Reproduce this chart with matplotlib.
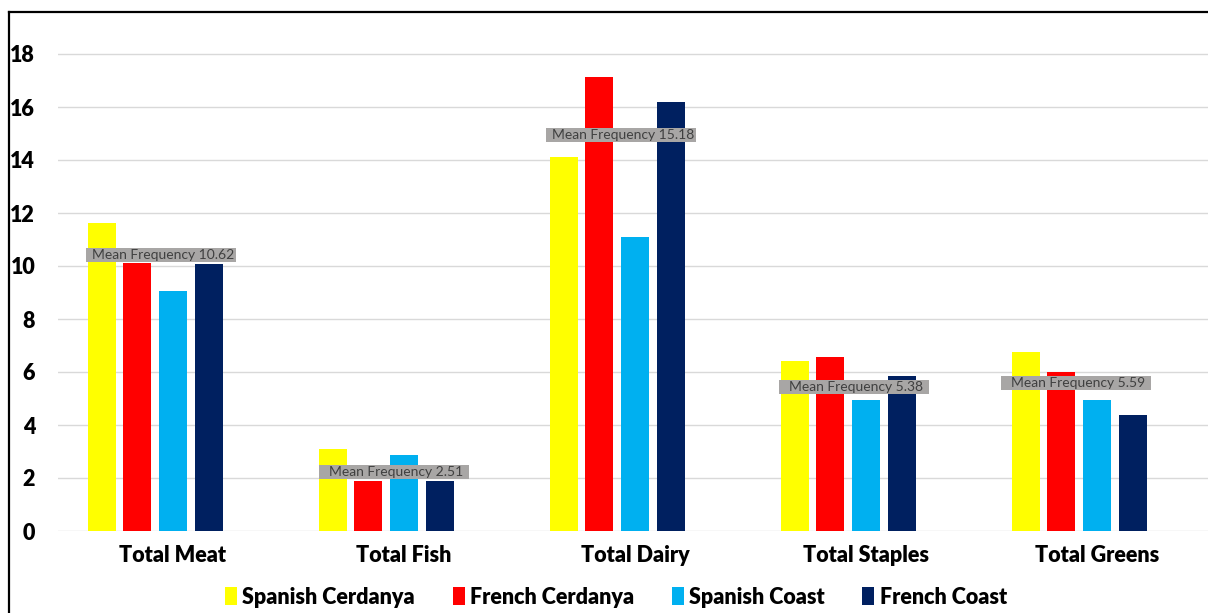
import numpy as np
import matplotlib.pyplot as plt
from matplotlib.patches import Rectangle
from matplotlib.lines import Line2D

# Dati
categorie = ['Total Meat', 'Total Fish', 'Total Dairy', 'Total Staples', 'Total Greens']
serie = ['Spanish Cerdanya', 'French Cerdanya', 'Spanish Coast', 'French Coast']
spanish_cerdanya = [11.62, 3.08, 14.10, 6.42, 6.75]
french_cerdanya = [10.10, 1.90, 17.12, 6.55, 6.01]
spanish_coast = [9.07, 2.87, 11.08, 4.94, 4.93]
french_coast = [10.07, 1.90, 16.20, 5.85, 4.38]
medie = [10.62, 2.51, 15.18, 5.38, 5.59]

colori = ['#FFFF00', '#FF0000', '#00B0F0', '#002060']

# posizione (alto) e spostamento dei riquadri con la media
box_top = [10.68, 2.48, 15.19, 5.70, 5.85]
box_dx = [-0.377, -0.368, -0.385, -0.377, -0.416]

plt.rcParams['font.family'] = ['Lato', 'DejaVu Sans']

W, H = 1208, 613
fig = plt.figure(figsize=(W / 100, H / 100), dpi=100)
ax = fig.add_axes([57.5 / W, (H - 531) / H, 1155 / W, 517 / H])

x = np.arange(len(categorie))
passo = 35.6 / 231
larg = 28 / 231
valori = [spanish_cerdanya, french_cerdanya, spanish_coast, french_coast]
for i in range(len(serie)):
    ax.bar(x + (i - 2) * passo, valori[i], width=larg, color=colori[i],
           label=serie[i], zorder=2)

# riquadri "Mean Frequency"
bw = 150 / 231
bh = 14 / 26.5
for k in range(len(categorie)):
    x0 = x[k] + box_dx[k]
    ax.add_patch(Rectangle((x0, box_top[k] - bh), bw, bh, facecolor='#A8A6A5',
                           edgecolor='none', zorder=3))
    ax.text(x0 + bw / 2 + 2 / 231, box_top[k] - bh / 2,
            'Mean Frequency %.2f' % medie[k], ha='center', va='center',
            fontsize=10, color='#404040', zorder=4)

ax.set_xlim(-0.5, 4.5)
ax.set_ylim(0, 517 / 26.5)
ax.set_yticks(np.arange(0, 19, 2))
ax.set_xticks(x)
ax.set_xticklabels(categorie)
for lab in ax.get_xticklabels() + ax.get_yticklabels():
    lab.set_fontweight('heavy')
    lab.set_fontsize(15.5)
ax.tick_params(axis='both', length=0)
ax.tick_params(axis='y', pad=16)
ax.tick_params(axis='x', pad=10)
ax.grid(axis='y', color='#D9D9D9', linewidth=1.0, zorder=0)
ax.set_axisbelow(True)
for s in ax.spines.values():
    s.set_visible(False)

fig.legend(loc='center', bbox_to_anchor=(616 / W, 1 - 597 / H), ncol=4,
           frameon=False, prop={'weight': 'heavy', 'size': 15.5},
           handlelength=0.55, handleheight=0.85, handletextpad=0.25,
           columnspacing=1.75)

# bordo del grafico
fig.add_artist(Line2D([9 / W, 9 / W], [0, 1 - 11.5 / H], color='black', lw=1.6,
                      transform=fig.transFigure))
fig.add_artist(Line2D([9 / W, 1], [1 - 11.5 / H, 1 - 11.5 / H], color='black',
                      lw=1.6, transform=fig.transFigure))

fig.savefig('out.png', dpi=100)
